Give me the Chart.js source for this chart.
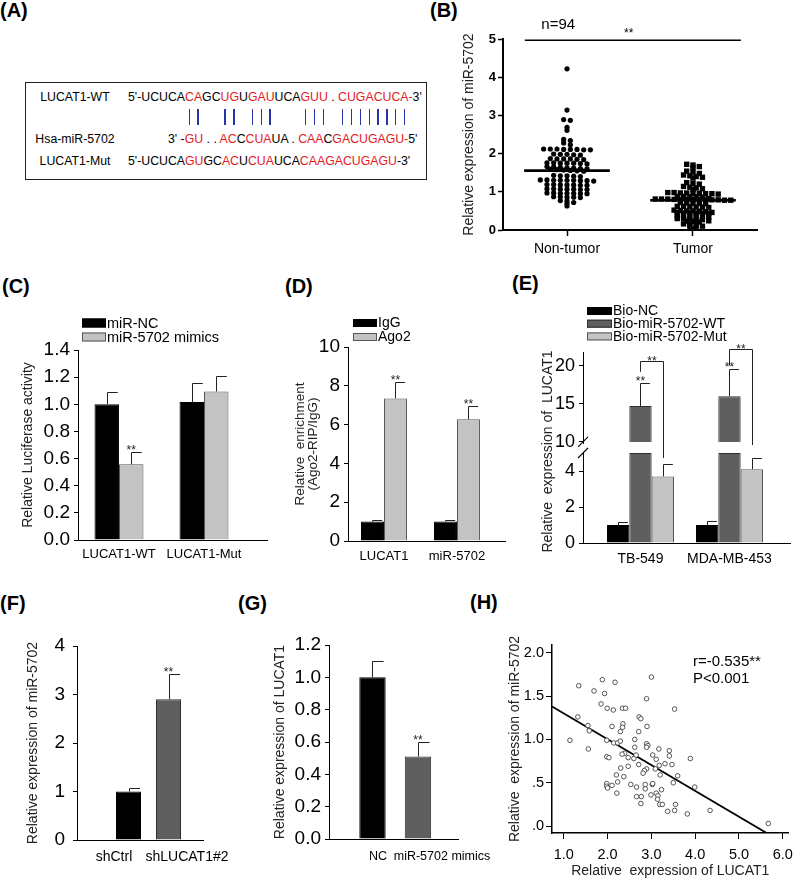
<!DOCTYPE html>
<html><head><meta charset="utf-8"><title>LUCAT1 / miR-5702</title>
<script src="https://cdn.jsdelivr.net/npm/chart.js"></script>
<style>
html,body{margin:0;padding:0;background:#fff;}
#page{position:relative;width:800px;height:880px;overflow:hidden;font-family:"Liberation Sans",Arial,Helvetica,sans-serif;color:#000;}
.pl{position:absolute;font-weight:bold;font-size:20px;line-height:20px;}
canvas{position:absolute;}
#boxA{position:absolute;left:25px;top:82px;width:402px;height:98px;border:1px solid #222;box-sizing:border-box;}
.seq{position:absolute;font-size:12.3px;white-space:pre;line-height:14px;height:14px;}
.lab{position:absolute;font-size:12.3px;white-space:pre;line-height:14px;height:14px;width:100px;text-align:center;}
.r{color:#e3191e;}
.pair{position:absolute;width:1.4px;background:#2636a6;}
</style></head>
<body><div id="page"><div id="boxA"></div></div>
<script>
// ================= DATA =================
// Panel A sequences: [text, isRed]
const seqWT  = [["5'-UCUCA",0],["CA",1],["GC",0],["UG",1],["U",0],["GAU",1],["UCA",0],["GUU",1],[" . ",0],["CUGACUCA-",1],["3'",0]];
const seqMiR = [["3' -",0],["GU",1],[" . . ",0],["AC",1],["C",0],["CUA",1],["UA . ",0],["CAA",1],["C",0],["GACUGAGU-",1],["5'",0]];
const seqMut = [["5'-UCUCA",0],["GU",1],["GC",0],["AC",1],["U",0],["CUA",1],["UCA",0],["CAAGACUGAGU",1],["-3'",0]];
const rowNames = ["LUCAT1-WT","Hsa-miR-5702","LUCAT1-Mut"];
const pairIdx = [8,9,12,13,15,16,17,21,22,23,27,28,29,30,31,32,33,34];

// Panel B
const bCats = ["Non-tumor","Tumor"];
const nonTumor = [4.22,3.14,2.89,2.87,2.69,2.61,2.37,2.34,2.28,2.23,
  2.12,2.11,2.12,2.10,2.11,2.12,2.10,2.11,
  1.98,1.97,1.99,1.96,1.98,
  1.86,1.85,1.87,1.86,1.84,1.86,
  1.76,1.75,1.74,1.76,1.75,1.73,1.75,
  1.66,1.65,1.64,1.63,1.62,1.61,1.60,1.59,1.58,1.57,1.56,1.55,1.54,
  1.43,1.42,1.41,1.42,1.40,
  1.31,1.30,1.29,1.30,1.31,1.28,1.30,1.29,1.30,
  1.19,1.18,1.17,1.18,1.19,1.17,1.18,
  1.08,1.07,1.06,1.07,1.08,1.06,1.07,
  0.97,0.96,0.95,0.96,0.97,0.95,0.96,
  0.87,0.86,0.85,0.86,0.87,
  0.77,0.76,0.72,0.70,0.63];
const tumor = [1.72,1.70,1.66,1.63,1.54,1.52,1.48,
  1.44,1.42,1.40,1.38,1.36,1.24,1.22,1.20,
  1.14,1.12,1.10,1.08,1.06,
  0.98,0.97,0.96,0.95,0.97,0.98,0.96,0.95,0.94,
  0.88,0.87,0.88,0.86,0.87,
  0.82,0.81,0.80,0.80,0.79,0.80,0.81,0.80,0.79,0.78,0.80,0.79,0.81,0.78,
  0.72,0.70,0.71,0.69,0.70,
  0.62,0.61,0.60,0.62,0.60,0.59,
  0.52,0.50,0.51,0.49,0.50,0.48,
  0.45,0.44,0.46,0.45,0.43,0.44,0.45,
  0.37,0.36,0.35,0.37,0.36,0.34,
  0.30,0.29,0.28,0.30,0.27,
  0.24,0.22,0.23,0.21,
  0.16,0.14,0.15,0.10,0.09,0.06,0.02];
const bYTicks = [0,1,2,3,4,5];

// Panel C
const cCats = ["LUCAT1-WT","LUCAT1-Mut"];
const cNC = [1.00,1.016], cNCErr = [0.087,0.142];
const cMim = [0.558,1.094], cMimErr = [0.089,0.113];
const cMimStar = [true,false];

// Panel D
const dCats = ["LUCAT1","miR-5702"];
const dIgG = [1.0,1.0], dIgGErr = [0.08,0.1];
const dAgo = [7.35,6.27], dAgoErr = [0.85,0.68];
const dAgoStar = [true,true];

// Panel E
const eCats = ["TB-549","MDA-MB-453"];
const eNC = [1.0,1.0], eNCErr = [0.15,0.2];
const eWT = [14.7,16.0], eWTErr = [3.0,3.6];
const eMut = [3.7,4.1], eMutErr = [0.7,0.6];
const eWTStar = [true,true];
const eLowTicks = [0,2,4], eHighTicks = [10,15,20];

// Panel F
const fCats = ["shCtrl","shLUCAT1#2"];
const fVals = [1.0,2.9], fErr = [0.08,0.52], fStar = [false,true];

// Panel G
const gCats = ["NC","miR-5702 mimics"];
const gVals = [1.0,0.51], gErr = [0.1,0.09], gStar = [false,true];

// Panel H
const hX = [1.34,1.88,2.17,3.00,1.69,1.93,2.89,1.85,1.99,2.13,2.34,2.41,3.53,1.32,1.55,1.58,2.10,2.35,2.34,2.29,
  2.72,2.76,2.90,2.71,1.14,1.56,1.98,2.14,2.23,2.29,2.62,2.89,2.92,2.62,2.89,1.98,2.03,2.39,2.33,2.47,
  2.60,2.65,3.03,3.11,3.17,3.41,3.41,3.89,2.30,2.47,2.71,2.89,3.18,3.31,3.47,2.84,2.81,3.09,2.20,2.37,
  3.20,3.60,1.98,1.98,2.00,2.10,2.23,2.53,2.66,2.86,3.02,2.86,3.03,3.23,3.50,3.99,2.21,2.66,2.77,2.99,
  3.11,3.15,3.14,2.76,3.19,3.25,3.55,3.37,3.53,3.82,4.34,5.67];
const hY = [1.62,1.69,1.66,1.72,1.56,1.53,1.47,1.41,1.36,1.34,1.36,1.36,1.35,1.26,1.16,1.10,1.15,1.18,1.14,1.09,
  1.26,1.24,1.15,1.09,0.99,0.89,0.99,0.96,0.96,0.98,1.00,0.95,0.93,0.91,0.91,0.80,0.79,0.84,0.83,0.79,
  0.78,0.82,0.82,0.77,0.89,0.87,0.81,0.78,0.67,0.69,0.71,0.66,0.70,0.72,0.71,0.64,0.61,0.66,0.59,0.57,
  0.59,0.58,0.49,0.46,0.44,0.47,0.51,0.48,0.45,0.48,0.48,0.43,0.49,0.42,0.50,0.45,0.38,0.34,0.34,0.36,
  0.38,0.35,0.31,0.26,0.25,0.25,0.25,0.17,0.18,0.14,0.18,0.03];
const hFit = [1.598, -0.298];   // fitted line: [intercept, slope]
const hXTicks = [1,2,3,4,5,6];
const hYTicks = [0,0.5,1,1.5,2];

// ================= SETUP =================
const FONT = "'Liberation Sans', Arial, Helvetica, sans-serif";
Chart.defaults.font.family = FONT;
Chart.defaults.color = '#000';
const page = document.getElementById('page');

function addDiv(cls, text, left, top) {
  const d = document.createElement('div'); d.className = cls; d.textContent = text;
  d.style.left = left + 'px'; d.style.top = top + 'px'; page.appendChild(d); return d;
}
// panel letters
[["(A)",0,0],["(B)",430,0],["(C)",2,276],["(D)",285,276],["(E)",512,273],["(F)",0,593],["(G)",238,593],["(H)",470,592]]
  .forEach(([t,x,y]) => addDiv('pl', t, x, y));

// ---- Panel A ----
function seqRow(parts, left, cy) {
  const d = document.createElement('div'); d.className = 'seq';
  d.style.left = left + 'px'; d.style.top = (cy - 7) + 'px';
  parts.forEach(([t, red]) => { const s = document.createElement('span'); s.textContent = t; if (red) s.className = 'r'; d.appendChild(s); });
  page.appendChild(d);
}
const rowY = [97, 139, 161];
rowNames.forEach((n, i) => addDiv('lab', n, 25, rowY[i] - 7));
seqRow(seqWT, 128, rowY[0]);
seqRow(seqMiR, 168, rowY[1]);
seqRow(seqMut, 128, rowY[2]);
(function pairs() {
  const c = document.createElement('canvas').getContext('2d');
  c.font = '12.3px ' + FONT;
  const s = seqWT.map(p => p[0]).join('');
  pairIdx.forEach(i => {
    const x = 128 + c.measureText(s.slice(0, i)).width + c.measureText(s[i]).width / 2;
    const d = document.createElement('div'); d.className = 'pair';
    d.style.left = (x - 0.7) + 'px'; d.style.top = '109px'; d.style.height = '16px';
    page.appendChild(d);
  });
})();

// ---- generic chart helpers ----
const errorBars = {
  id: 'errorBars',
  afterDatasetsDraw(chart) {
    const ctx = chart.ctx;
    chart.data.datasets.forEach((ds, di) => {
      if (!ds.errPlus) return;
      const meta = chart.getDatasetMeta(di);
      const vs = meta.vScale;
      meta.data.forEach((el, i) => {
        const e = ds.errPlus[i]; if (e == null) return;
        const p = meta.controller.getParsed(i);
        const top = Math.round(vs.getPixelForValue(p[vs.axis] + e)) + 0.5;
        const x = Math.round(el.x) + 0.5;
        ctx.save();
        ctx.strokeStyle = '#222'; ctx.lineWidth = 1;
        ctx.beginPath(); ctx.moveTo(x, el.y); ctx.lineTo(x, top); ctx.lineTo(x + el.width * 0.42, top); ctx.stroke();
        if (ds.stars && ds.stars[i]) {
          ctx.fillStyle = '#222'; ctx.font = '12px ' + FONT; ctx.textAlign = 'center'; ctx.textBaseline = 'alphabetic';
          ctx.fillText('**', el.x, top + 1);
        }
        ctx.restore();
      });
    });
  }
};

function mk(box, area, config, decoFn) {
  const cv = document.createElement('canvas');
  const w = box.r - box.l, h = box.b - box.t;
  cv.width = w; cv.height = h;
  cv.style.left = box.l + 'px'; cv.style.top = box.t + 'px';
  cv.style.width = w + 'px'; cv.style.height = h + 'px';
  page.appendChild(cv);
  const o = config.options = config.options || {};
  o.responsive = false; o.maintainAspectRatio = false; o.animation = false; o.devicePixelRatio = 1; o.events = [];
  o.layout = {padding: {left: 0, top: area.t - box.t, right: box.r - area.r, bottom: 0}};
  o.plugins = Object.assign({legend: {display: false}, tooltip: {enabled: false}}, o.plugins || {});
  for (const id in o.scales) {
    const s = o.scales[id];
    const ax = s.axis || id.charAt(0);
    if (ax === 'x') s.afterFit = sc => { sc.height = box.b - area.b; };
    else s.afterFit = sc => { sc.width = area.l - box.l; };
  }
  config.plugins = (config.plugins || []).concat([errorBars, {
    id: 'deco',
    afterDraw(chart) { if (decoFn) { chart.ctx.save(); decoFn(chart.ctx, chart, box.l, box.t); chart.ctx.restore(); } }
  }]);
  return new Chart(cv, config);
}

function drawLegend(ctx, chart, x, y, step, bw, bh, size) {
  ctx.save();
  ctx.font = size + 'px ' + FONT; ctx.textBaseline = 'middle'; ctx.textAlign = 'left';
  chart.data.datasets.forEach(ds => {
    if (ds.noLegend) return;
    const bg = Array.isArray(ds.backgroundColor) ? ds.backgroundColor[0] : ds.backgroundColor;
    const bc = Array.isArray(ds.borderColor) ? ds.borderColor[0] : ds.borderColor;
    ctx.fillStyle = bg; ctx.fillRect(x, y - bh / 2, bw, bh);
    ctx.strokeStyle = bc || bg; ctx.lineWidth = 1; ctx.strokeRect(x + 0.5, y - bh / 2 + 0.5, bw - 1, bh - 1);
    ctx.fillStyle = '#000'; ctx.fillText(ds.label, x + bw + 1, y + 0.5);
    y += step;
  });
  ctx.restore();
}

const xy = (vals) => vals.map((v, i) => ({x: i + 1, y: v}));
function yAx(o) {
  return Object.assign({
    type: 'linear', position: 'left', stacked: false,
    ticks: {font: {size: o.fs || 19}, padding: o.pad || 3, color: '#000', stepSize: o.step, callback: o.cb},
    grid: {display: true, drawOnChartArea: false, drawTicks: true, tickLength: o.tl || 4, color: '#000', tickWidth: o.tw || 1},
    border: {display: true, color: '#000', width: o.bw || 1},
    title: o.title ? {display: true, text: o.title, color: '#222', font: Object.assign({size: 14}, o.tfont || {}), padding: {top: o.tpad || 0, bottom: 0}} : {display: false}
  }, o.extra || {});
}
function xAx(o) {
  return {
    type: 'linear', position: 'bottom', offset: false, min: o.min, max: o.max,
    afterBuildTicks: s => { s.ticks = o.ticks.map(v => ({value: v})); },
    ticks: {autoSkip: false, maxRotation: 0, font: {size: o.fs || 13}, padding: o.pad || 6, color: '#000',
      callback: o.cb || ((v, i) => o.labels[i])},
    grid: {display: true, offset: false, drawOnChartArea: false, drawTicks: !!o.tl, tickLength: o.tl || 0, color: '#000', tickWidth: o.tw || 1},
    border: {display: true, color: '#000', width: o.bw || 1},
    title: o.title ? {display: true, text: o.title, color: '#222', font: {size: 14}, padding: {top: 0, bottom: 0}} : {display: false}
  };
}

// ================= PANEL B =================
function swarm(vals, center, spacing, maxHalf) {
  const sorted = [...vals].sort((a, b) => b - a);
  const groups = []; let g = null;
  sorted.forEach(v => { if (!g || g.start - v > 0.065) { g = {start: v, vals: []}; groups.push(g); } g.vals.push(v); });
  const pts = [];
  groups.forEach(gr => {
    const n = gr.vals.length;
    const sp = n > 1 ? Math.min(spacing, 2 * maxHalf / (n - 1)) : 0;
    gr.vals.forEach((v, k) => pts.push({x: center + (k - (n - 1) / 2) * sp, y: v}));
  });
  return pts;
}
const median = a => { const s = [...a].sort((p, q) => p - q), n = s.length; return n % 2 ? s[(n - 1) / 2] : (s[n / 2 - 1] + s[n / 2]) / 2; };
const bMedHalf = 0.34;
const bSig = {x0: 0.665, x1: 2.38, y: 4.97, starX: 1.49, starY: 5.05, nX: 0.93, nY: 5.37};
mk({l: 440, t: 0, r: 775, b: 275}, {l: 503, t: 39, r: 757, b: 230}, {
  type: 'scatter',
  data: {datasets: [
    {label: bCats[0], data: swarm(nonTumor, 1, 0.053, 0.3), pointStyle: 'circle', pointRadius: 2.6, backgroundColor: '#000', borderWidth: 0},
    {label: bCats[1], data: swarm(tumor, 2, 0.05, 0.3), pointStyle: 'rect', pointRadius: 3.8, backgroundColor: '#000', borderWidth: 0},
    {data: [{x: 1 - bMedHalf, y: median(nonTumor)}, {x: 1 + bMedHalf, y: median(nonTumor)}], showLine: true, pointRadius: 0, borderColor: '#000', borderWidth: 2.6},
    {data: [{x: 2 - bMedHalf, y: median(tumor)}, {x: 2 + bMedHalf, y: median(tumor)}], showLine: true, pointRadius: 0, borderColor: '#000', borderWidth: 2.6}
  ]},
  options: {scales: {
    x: xAx({min: 0.492, max: 2.508, ticks: [1, 2], labels: bCats, fs: 14, pad: 5, tl: 6, tw: 1.5, bw: 2}),
    y: yAx({fs: 13, pad: 2, tl: 5, tw: 1.5, bw: 2, title: 'Relative expression of miR-5702', tpad: 21,
      extra: {min: 0, max: 5, afterBuildTicks: s => { s.ticks = bYTicks.map(v => ({value: v})); },
        ticks: {font: {size: 13, weight: 'bold'}, padding: 2, color: '#000'}}})
  }}
}, (ctx, ch) => {
  const xs = ch.scales.x, ys = ch.scales.y;
  const yy = ys.getPixelForValue(bSig.y);
  ctx.strokeStyle = '#000'; ctx.lineWidth = 1.5;
  ctx.beginPath(); ctx.moveTo(xs.getPixelForValue(bSig.x0), yy); ctx.lineTo(xs.getPixelForValue(bSig.x1), yy); ctx.stroke();
  ctx.fillStyle = '#000'; ctx.textAlign = 'center';
  ctx.font = '15px ' + FONT; ctx.textBaseline = 'middle';
  ctx.fillText('n=94', xs.getPixelForValue(bSig.nX), ys.getPixelForValue(bSig.nY));
  ctx.font = '12px ' + FONT; ctx.textBaseline = 'alphabetic';
  ctx.fillText('**', xs.getPixelForValue(bSig.starX), ys.getPixelForValue(bSig.starY));
});

// ================= PANEL C =================
mk({l: 0, t: 295, r: 272, b: 575}, {l: 78, t: 350, r: 267, b: 540}, {
  type: 'bar',
  data: {datasets: [
    {label: 'miR-NC', data: xy(cNC), errPlus: cNCErr, backgroundColor: '#000', borderColor: '#000', borderWidth: 1, stack: 's0'},
    {label: 'miR-5702 mimics', data: xy(cMim), errPlus: cMimErr, stars: cMimStar, backgroundColor: '#c3c3c3', borderColor: '#555', borderWidth: 1, stack: 's1'}
  ]},
  options: {
    datasets: {bar: {barPercentage: 1, categoryPercentage: 0.576}},
    scales: {
      x: xAx({min: 0.518, max: 2.741, ticks: [1, 2], labels: cCats, fs: 13, pad: 7}),
      y: yAx({step: 0.2, cb: v => v.toFixed(1), title: 'Relative Luciferase activity', tpad: 19.6, pad: 4, extra: {min: 0, max: 1.4}})
    }}
}, (ctx, ch, ox, oy) => drawLegend(ctx, ch, 82 - ox, 323 - oy, 14, 24, 9, 14.5));

// ================= PANEL D =================
mk({l: 280, t: 295, r: 510, b: 575}, {l: 348, t: 347, r: 505, b: 541}, {
  type: 'bar',
  data: {datasets: [
    {label: 'IgG', data: xy(dIgG), errPlus: dIgGErr, backgroundColor: '#000', borderColor: '#000', borderWidth: 1, stack: 's0'},
    {label: 'Ago2', data: xy(dAgo), errPlus: dAgoErr, stars: dAgoStar, backgroundColor: '#c3c3c3', borderColor: '#555', borderWidth: 1, stack: 's1'}
  ]},
  options: {
    datasets: {bar: {barPercentage: 1, categoryPercentage: 0.63}},
    scales: {
      x: xAx({min: 0.507, max: 2.658, ticks: [1, 2], labels: dCats, fs: 13, pad: 8}),
      y: yAx({step: 2, title: ['Relative  enrichment', '(Ago2-RIP/IgG)'], tfont: {size: 13.5, lineHeight: 1.0}, tpad: 13.3, pad: 4, extra: {min: 0, max: 10}})
    }}
}, (ctx, ch, ox, oy) => drawLegend(ctx, ch, 353 - ox, 323 - oy, 14, 24, 8, 14));

// ================= PANEL E =================
const eLowMax = 5, eBreak = 10;
const eBr = {top: [20.6, 22.2], leftEnd: [19.2, 20.0], rightEnd: [4.72, 5.44]};
mk({l: 530, t: 295, r: 800, b: 580}, {l: 583, t: 352, r: 790, b: 543}, {
  type: 'bar',
  data: {datasets: [
    {label: 'Bio-NC', data: xy(eNC), errPlus: eNCErr, backgroundColor: '#000', borderColor: '#000', borderWidth: 1, stack: 's0', yAxisID: 'yLow'},
    {label: 'Bio-miR-5702-WT', data: xy(eWT.map(v => Math.min(v, eLowMax))), backgroundColor: '#5f5f5f', borderColor: '#2e2e2e', borderWidth: 1, stack: 's1', yAxisID: 'yLow'},
    {label: 'Bio-miR-5702-WT', noLegend: true, data: eWT.map((v, i) => ({x: i + 1, y: [eBreak, v]})), errPlus: eWTErr, stars: eWTStar, backgroundColor: '#5f5f5f', borderColor: '#2e2e2e', borderWidth: 1, borderSkipped: 'bottom', stack: 's1', yAxisID: 'yHigh'},
    {label: 'Bio-miR-5702-Mut', data: xy(eMut), errPlus: eMutErr, backgroundColor: '#c3c3c3', borderColor: '#555', borderWidth: 1, stack: 's2', yAxisID: 'yLow'}
  ]},
  options: {
    datasets: {bar: {barPercentage: 1, categoryPercentage: 0.753}},
    scales: {
      x: xAx({min: 0.354, max: 2.68, ticks: [1, 2], labels: eCats, fs: 14, pad: 7.6}),
      yLow: yAx({fs: 18, pad: 4, extra: {axis: 'y', stack: 'e', stackWeight: 90, weight: 1, min: 0, max: eLowMax,
        afterBuildTicks: s => { s.ticks = eLowTicks.map(v => ({value: v})); }}}),
      yHigh: yAx({fs: 18, pad: 4, extra: {axis: 'y', stack: 'e', stackWeight: 101, weight: 2, min: 8.55, max: 21.8,
        afterBuildTicks: s => { s.ticks = eHighTicks.map(v => ({value: v})); }}})
    }}
}, (ctx, ch, ox, oy) => {
  drawLegend(ctx, ch, 587 - ox, 311 - oy, 12.7, 25, 8, 14);
  const lo = ch.scales.yLow, hi = ch.scales.yHigh;
  const wt = ch.getDatasetMeta(2).data, mu = ch.getDatasetMeta(3).data;
  ctx.strokeStyle = '#222'; ctx.lineWidth = 1; ctx.fillStyle = '#222';
  eBr.top.forEach((t, i) => {
    const xl = Math.round(wt[i].x) + 0.5, xr = Math.round(mu[i].x) + 0.5;
    const yt = Math.round(hi.getPixelForValue(t)) + 0.5;
    ctx.beginPath();
    ctx.moveTo(xl, hi.getPixelForValue(eBr.leftEnd[i])); ctx.lineTo(xl, yt); ctx.lineTo(xr, yt); ctx.lineTo(xr, lo.getPixelForValue(eBr.rightEnd[i]));
    ctx.stroke();
    ctx.font = '12px ' + FONT; ctx.textAlign = 'center'; ctx.textBaseline = 'alphabetic';
    ctx.fillText('**', (xl + xr) / 2, yt + 3);
  });
  // axis break
  const ax = ch.chartArea.left;
  const yb1 = hi.getPixelForValue(eBreak), yb2 = lo.getPixelForValue(eLowMax);
  ctx.fillStyle = '#fff'; ctx.fillRect(ax - 3, yb1 + 2, 6, yb2 - yb1 - 3);
  ctx.strokeStyle = '#000'; ctx.lineWidth = 1.1;
  ctx.beginPath();
  ctx.moveTo(ax - 5, yb1 + 5); ctx.lineTo(ax + 5, yb1 - 5);
  ctx.moveTo(ax - 5, yb2 + 5); ctx.lineTo(ax + 5, yb2 - 5);
  ctx.stroke();
  // y title spanning both stacked scales
  ctx.save();
  ctx.translate(548 - ox, (ch.chartArea.top + ch.chartArea.bottom) / 2 + 4);
  ctx.rotate(-Math.PI / 2);
  ctx.font = '14px ' + FONT; ctx.fillStyle = '#222'; ctx.textAlign = 'center'; ctx.textBaseline = 'middle';
  ctx.fillText('Relative  expression of  LUCAT1', 0, 0);
  ctx.restore();
});

// ================= PANEL F =================
mk({l: 0, t: 615, r: 250, b: 880}, {l: 77, t: 646, r: 203, b: 840}, {
  type: 'bar',
  data: {datasets: [
    {label: 'F', data: xy(fVals), errPlus: fErr, stars: fStar, backgroundColor: ['#000', '#5f5f5f'], borderColor: ['#000', '#2e2e2e'], borderWidth: 1}
  ]},
  options: {
    datasets: {bar: {barPercentage: 1, categoryPercentage: 0.625}},
    scales: {
      x: xAx({min: -0.2875, max: 2.8625, ticks: [0.6375, 2.4625], labels: fCats, fs: 14, pad: 8.6}),
      y: yAx({step: 1, title: 'Relative expression of miR-5702', tpad: 24.6, pad: 8, extra: {min: 0, max: 4}})
    }}
});

// ================= PANEL G =================
mk({l: 262, t: 615, r: 530, b: 880}, {l: 329, t: 645, r: 458, b: 839}, {
  type: 'bar',
  data: {datasets: [
    {label: 'G', data: xy(gVals), errPlus: gErr, stars: gStar, backgroundColor: ['#000', '#5f5f5f'], borderColor: ['#000', '#2e2e2e'], borderWidth: 1}
  ]},
  options: {
    datasets: {bar: {barPercentage: 1, categoryPercentage: 0.58}},
    scales: {
      x: xAx({min: 0.044, max: 2.88, ticks: [1.121, 2.528], labels: gCats, fs: 12.5, pad: 10}),
      y: yAx({step: 0.2, cb: v => v.toFixed(1), title: 'Relative expression of LUCAT1', tpad: 9.6, pad: 4, extra: {min: 0, max: 1.2}})
    }}
});

// ================= PANEL H =================
(function () {
  const xMin = 0.73, xMax = 6.13;
  const fitY = x => hFit[0] + hFit[1] * x;
  mk({l: 470, t: 615, r: 800, b: 880}, {l: 552, t: 645, r: 793, b: 833}, {
    type: 'scatter',
    data: {datasets: [
      {label: 'cases', data: hX.map((x, i) => ({x, y: hY[i]})), pointStyle: 'circle', pointRadius: 2.3, borderWidth: 0.9, borderColor: '#444', backgroundColor: '#fff'},
      {label: 'fit', data: [{x: xMin, y: fitY(xMin)}, {x: xMax, y: fitY(xMax)}], showLine: true, pointRadius: 0, borderColor: '#000', borderWidth: 1.8}
    ]},
    options: {scales: {
      x: xAx({min: xMin, max: xMax, ticks: hXTicks, cb: v => v.toFixed(1), fs: 14.5, pad: 7, tl: 6, bw: 1.5, title: 'Relative  expression of LUCAT1'}),
      y: yAx({fs: 14.5, pad: 2, tl: 6, bw: 1.5, title: 'Relative  expression of miR-5702', tpad: 36.6,
        cb: v => v.toFixed(1).replace(/^0/, ''),
        extra: {min: -0.08, max: 2.09, afterBuildTicks: s => { s.ticks = hYTicks.map(v => ({value: v})); }}})
    }}
  }, (ctx, ch, ox, oy) => {
    ctx.fillStyle = '#000'; ctx.font = '15px ' + FONT; ctx.textAlign = 'left'; ctx.textBaseline = 'middle';
    ctx.fillText('r=-0.535**', 693 - ox, 662 - oy);
    ctx.fillText('P<0.001', 693 - ox, 679 - oy);
  });
})();
</script>
</body></html>
